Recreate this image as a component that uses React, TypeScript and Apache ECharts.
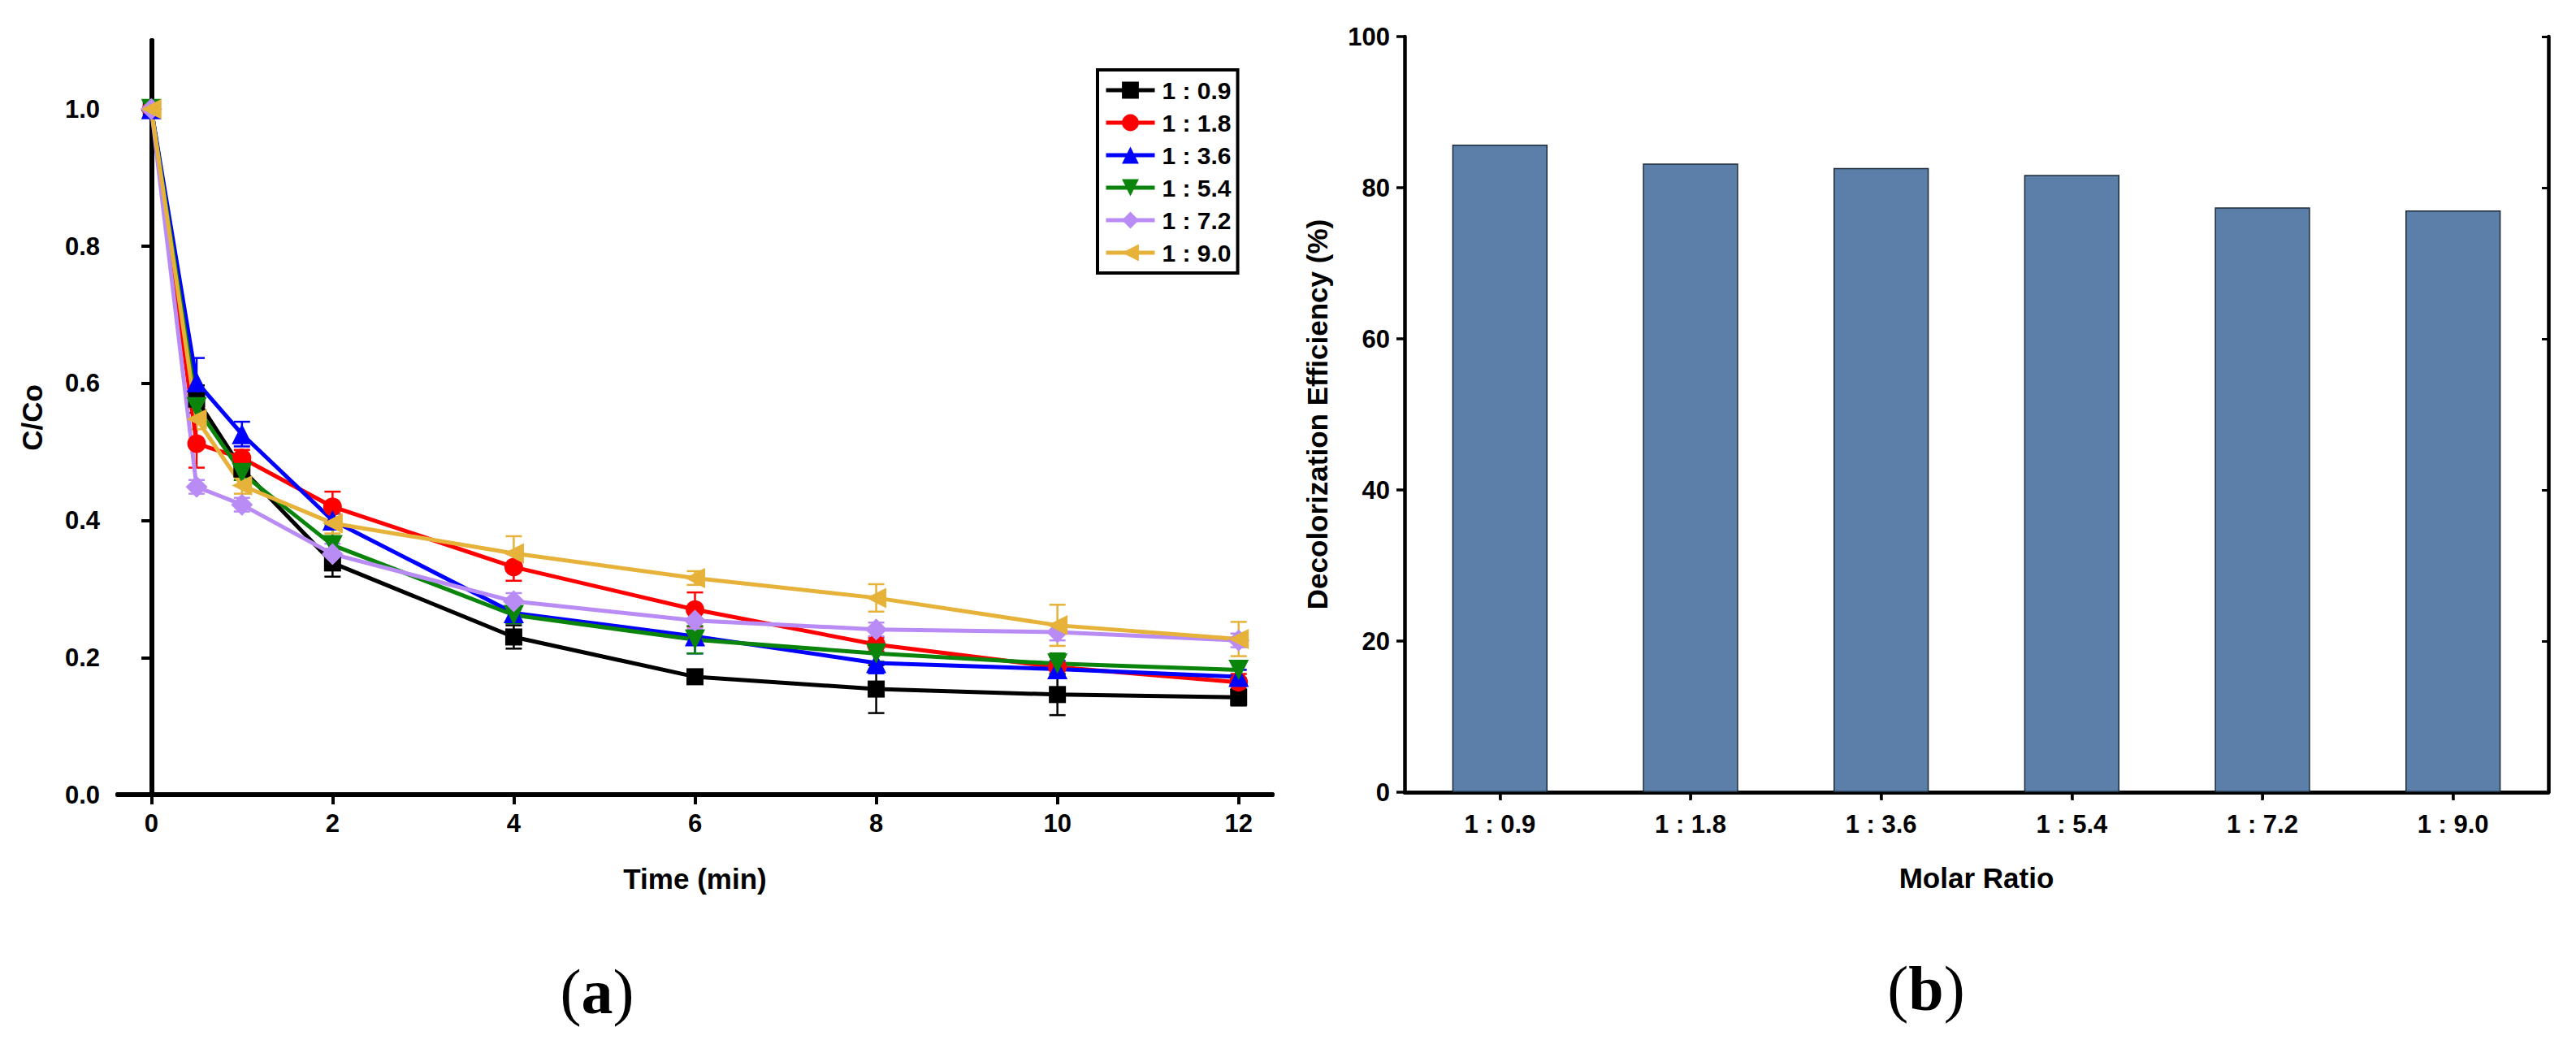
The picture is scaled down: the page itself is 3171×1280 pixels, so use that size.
import React, { useEffect, useRef } from "react";
import * as echarts from "echarts";

const times = [0, 0.5, 1, 2, 4, 6, 8, 10, 12];
const timeTicks = [0, 2, 4, 6, 8, 10, 12];
const ccoTicks = [0, 0.2, 0.4, 0.6, 0.8, 1.0];

const seriesNames = ["1 : 0.9", "1 : 1.8", "1 : 3.6", "1 : 5.4", "1 : 7.2", "1 : 9.0"];
const r09 = [1.0, 0.577, 0.475, 0.338, 0.23, 0.172, 0.154, 0.146, 0.142];
const r18 = [1.0, 0.512, 0.491, 0.42, 0.332, 0.27, 0.219, 0.186, 0.164];
const r36 = [1.0, 0.602, 0.526, 0.4, 0.265, 0.231, 0.192, 0.183, 0.172];
const r54 = [1.0, 0.565, 0.469, 0.364, 0.262, 0.226, 0.206, 0.191, 0.182];
const r72 = [1.0, 0.449, 0.423, 0.351, 0.282, 0.254, 0.241, 0.237, 0.225];
const r90 = [1.0, 0.548, 0.451, 0.396, 0.352, 0.316, 0.287, 0.247, 0.227];

const e09 = [0, 0.02, 0.01, 0.02, 0.017, 0.008, 0.035, 0.03, 0.012];
const e18 = [0, 0.035, 0.012, 0.022, 0.02, 0.025, 0.01, 0.015, 0.012];
const e36 = [0, 0.035, 0.018, 0.01, 0.015, 0.025, 0.015, 0.012, 0.01];
const e54 = [0, 0.015, 0.01, 0.03, 0.012, 0.02, 0.012, 0.015, 0.012];
const e72 = [0, 0.01, 0.01, 0.015, 0.012, 0.012, 0.01, 0.012, 0.01];
const e90 = [0, 0.015, 0.012, 0.015, 0.025, 0.01, 0.02, 0.03, 0.025];

const ratioCategories = ["1 : 0.9", "1 : 1.8", "1 : 3.6", "1 : 5.4", "1 : 7.2", "1 : 9.0"];
const efficiency = [85.7, 83.2, 82.6, 81.7, 77.4, 77.0];

const FONT = "'Liberation Sans', Arial, Helvetica, sans-serif";
const SERIF = "'Liberation Serif', 'DejaVu Serif', serif";

const lineDefs = [
  { name: seriesNames[0], ys: r09, es: e09, color: "#000000", symbol: "rect", rotate: 0, size: 21 },
  { name: seriesNames[1], ys: r18, es: e18, color: "#ff0000", symbol: "circle", rotate: 0, size: 23 },
  { name: seriesNames[2], ys: r36, es: e36, color: "#0000ff", symbol: "triangle", rotate: 0, size: 25 },
  { name: seriesNames[3], ys: r54, es: e54, color: "#0a840a", symbol: "triangle", rotate: 180, size: 25 },
  { name: seriesNames[4], ys: r72, es: e72, color: "#b98cf5", symbol: "diamond", rotate: 0, size: 27 },
  { name: seriesNames[5], ys: r90, es: e90, color: "#e6b23a", symbol: "triangle", rotate: 90, size: 25 },
];

function errorSeries(def: any) {
  const data: number[][] = [];
  times.forEach((t, i) => {
    if (def.es[i] > 0) data.push([t, def.ys[i] - def.es[i], def.ys[i] + def.es[i]]);
  });
  return {
    type: "custom",
    name: def.name + " err",
    xAxisIndex: 0,
    yAxisIndex: 0,
    silent: true,
    z: 2,
    encode: { x: 0, y: [1, 2] },
    data,
    renderItem: (params: any, api: any) => {
      const x = api.value(0);
      const lo = api.coord([x, api.value(1)]);
      const hi = api.coord([x, api.value(2)]);
      const w = 10;
      const st = { stroke: def.color, lineWidth: 2.5 };
      return {
        type: "group",
        children: [
          { type: "line", shape: { x1: lo[0], y1: lo[1], x2: hi[0], y2: hi[1] }, style: st },
          { type: "line", shape: { x1: lo[0] - w, y1: lo[1], x2: lo[0] + w, y2: lo[1] }, style: st },
          { type: "line", shape: { x1: hi[0] - w, y1: hi[1], x2: hi[0] + w, y2: hi[1] }, style: st },
        ],
      };
    },
  };
}

export default function App() {
  const ref = useRef<HTMLDivElement>(null);
  useEffect(() => {
    document.body.style.margin = "0";
    const chart = echarts.init(ref.current!, null, { renderer: "svg" });
    const axisLineL = { show: true, lineStyle: { color: "#000", width: 6 } };
    const axisLineR = { show: true, lineStyle: { color: "#000", width: 4.5 } };
    const tickLabel = { color: "#000", fontFamily: FONT, fontWeight: "bold", fontSize: 31 };
    const nameStyle = { color: "#000", fontFamily: FONT, fontWeight: "bold", fontSize: 35 };

    const lineSeries = lineDefs.map((d) => ({
      type: "line",
      name: d.name,
      xAxisIndex: 0,
      yAxisIndex: 0,
      data: times.map((t, i) => [t, d.ys[i]]),
      symbol: d.symbol,
      symbolRotate: d.rotate,
      symbolSize: d.size,
      z: 3,
      lineStyle: { color: d.color, width: 5 },
      itemStyle: { color: d.color },
    }));

    const option: any = {
      animation: false,
      backgroundColor: "#ffffff",
      grid: [
        { left: 145, top: 50, width: 1421, height: 928, outerBoundsMode: "none" },
        { left: 1729, top: 45, width: 1408, height: 930, outerBoundsMode: "none" },
      ],
      legend: {
        data: seriesNames,
        orient: "vertical",
        left: 1351,
        top: 86,
        padding: [10, 8, 10, 8],
        itemWidth: 60,
        itemHeight: 26,
        itemGap: 10,
        borderColor: "#000",
        borderWidth: 4,
        backgroundColor: "#fff",
        lineStyle: { width: 5 },
        textStyle: { color: "#000", fontFamily: FONT, fontWeight: "bold", fontSize: 30, padding: [0, 0, 0, 4] },
      },
      xAxis: [
        {
          type: "value",
          gridIndex: 0,
          min: -0.37,
          max: 12.37,
          position: "bottom",
          name: "Time (min)",
          nameLocation: "middle",
          nameGap: 86,
          nameTextStyle: nameStyle,
          axisLine: axisLineL,
          axisTick: { show: true, inside: false, length: 12, lineStyle: { width: 4, color: "#000" }, customValues: timeTicks },
          axisLabel: { ...tickLabel, margin: 20, customValues: timeTicks, formatter: (v: number) => String(v) },
          splitLine: { show: false },
        },
        {
          type: "value",
          gridIndex: 0,
          min: -0.37,
          max: 12.37,
          position: "top",
          axisLine: axisLineL,
          axisTick: { show: true, inside: true, length: 12, lineStyle: { width: 4, color: "#000" }, customValues: timeTicks },
          axisLabel: { show: false, customValues: timeTicks },
          splitLine: { show: false },
        },
        {
          type: "category",
          gridIndex: 1,
          data: ratioCategories,
          position: "bottom",
          name: "Molar Ratio",
          nameLocation: "middle",
          nameGap: 88,
          nameTextStyle: nameStyle,
          axisLine: axisLineR,
          axisTick: { show: true, alignWithLabel: true, inside: false, length: 10, lineStyle: { width: 3.5, color: "#000" } },
          axisLabel: { ...tickLabel, margin: 24 },
          splitLine: { show: false },
        },
        {
          type: "category",
          gridIndex: 1,
          data: ratioCategories,
          position: "top",
          axisLine: axisLineR,
          axisTick: { show: true, alignWithLabel: true, inside: true, length: 8, lineStyle: { width: 3, color: "#000" } },
          axisLabel: { show: false },
          splitLine: { show: false },
        },
      ],
      yAxis: [
        {
          type: "value",
          gridIndex: 0,
          min: 0,
          max: 1.1,
          position: "left",
          name: "C/Co",
          nameLocation: "middle",
          nameGap: 88,
          nameTextStyle: nameStyle,
          axisLine: axisLineL,
          axisTick: { show: true, inside: false, length: 12, lineStyle: { width: 4, color: "#000" }, customValues: ccoTicks },
          axisLabel: { ...tickLabel, margin: 22, customValues: ccoTicks, formatter: (v: number) => v.toFixed(1) },
          splitLine: { show: false },
        },
        {
          type: "value",
          gridIndex: 0,
          min: 0,
          max: 1.1,
          position: "right",
          axisLine: axisLineL,
          axisTick: { show: true, inside: true, length: 12, lineStyle: { width: 4, color: "#000" }, customValues: ccoTicks },
          axisLabel: { show: false, customValues: ccoTicks },
          splitLine: { show: false },
        },
        {
          type: "value",
          gridIndex: 1,
          min: 0,
          max: 100,
          interval: 20,
          position: "left",
          name: "Decolorization Efficiency (%)",
          nameLocation: "middle",
          nameGap: 90,
          nameTextStyle: nameStyle,
          axisLine: axisLineR,
          axisTick: { show: true, inside: false, length: 10, lineStyle: { width: 3.5, color: "#000" } },
          axisLabel: { ...tickLabel, margin: 18 },
          splitLine: { show: false },
        },
        {
          type: "value",
          gridIndex: 1,
          min: 0,
          max: 100,
          interval: 20,
          position: "right",
          axisLine: axisLineR,
          axisTick: { show: true, inside: true, length: 8, lineStyle: { width: 3, color: "#000" } },
          axisLabel: { show: false },
          splitLine: { show: false },
        },
      ],
      series: [
        ...lineDefs.map((d) => errorSeries(d)),
        ...lineSeries,
        {
          type: "bar",
          name: "Decolorization Efficiency",
          xAxisIndex: 2,
          yAxisIndex: 2,
          data: efficiency,
          barWidth: "50%",
          itemStyle: { color: "#5b7fa8", borderColor: "#1d2b3a", borderWidth: 1.5 },
        },
      ],
      graphic: [
        {
          type: "text",
          x: 735,
          y: 1220,
          style: {
            text: "{p|(}{b|a}{p|)}",
            align: "center",
            verticalAlign: "middle",
            rich: {
              p: { fontFamily: SERIF, fontSize: 78, fill: "#000" },
              b: { fontFamily: SERIF, fontSize: 78, fontWeight: "bold", fill: "#000" },
            },
          },
        },
        {
          type: "text",
          x: 2371,
          y: 1216,
          style: {
            text: "{p|(}{b|b}{p|)}",
            align: "center",
            verticalAlign: "middle",
            rich: {
              p: { fontFamily: SERIF, fontSize: 78, fill: "#000" },
              b: { fontFamily: SERIF, fontSize: 78, fontWeight: "bold", fill: "#000" },
            },
          },
        },
      ],
    };
    chart.setOption(option);
    return () => chart.dispose();
  }, []);
  return <div ref={ref} style={{ width: 3171, height: 1280 }} />;
}
